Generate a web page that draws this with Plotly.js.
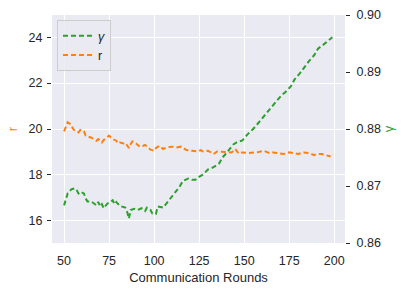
<!DOCTYPE html>
<html>
<head>
<meta charset="utf-8">
<script src="https://cdn.plot.ly/plotly-3.0.1.min.js"></script>
<style>html,body{margin:0;padding:0;background:#fff;}#chart{width:408px;height:292px;}</style>
</head>
<body>
<div id="chart"></div>
<script>
const roundsR = [50,52,54,55,56,58,59,61,62,63,65,67,68,69,71,72,75,76,77,79,80,81,83,84,86,87,88,90,92,94,95,97,98,99,100,101,103,105,107,110,113,115,118,121,124,126,127,130,133,135,138,140,143,145,147,149,152,154,157,161,164,166,169,172,175,178,180,183,186,189,190,193,196,198];
const rValues = [19.90,20.29,20.19,20.00,19.93,19.85,19.96,19.90,19.71,19.66,19.63,19.56,19.49,19.56,19.41,19.52,19.71,19.63,19.56,19.49,19.37,19.41,19.37,19.40,19.17,19.35,19.46,19.37,19.23,19.27,19.31,19.17,19.10,19.08,19.05,19.17,19.27,19.13,19.20,19.23,19.20,19.23,19.08,19.05,19.02,19.08,19.02,19.05,18.91,19.02,19.02,19.00,18.98,19.13,18.93,18.98,18.95,18.95,18.98,19.05,18.95,18.98,18.95,18.91,18.98,18.95,18.91,18.98,18.95,18.86,18.91,18.91,18.83,18.80];

const roundsG = [50,52,54,56,57,58,59,61,62,63,65,67,68,69,70,71,72,74,76,77,78,79,81,82,84,85,86,87,89,91,93,95,96,98,99,101,102,105,108,111,114,116,119,121,123,125,127,130,133,136,138,141,144,146,149,152,155,158,161,164,166,168,171,173,176,178,181,183,186,189,191,194,197,199];
const gammaValues = [0.8666,0.8687,0.8694,0.8696,0.8693,0.8687,0.8690,0.8687,0.8678,0.8673,0.8673,0.8668,0.8666,0.8672,0.8664,0.8668,0.8661,0.8669,0.8673,0.8675,0.8668,0.8672,0.8665,0.8664,0.8662,0.8655,0.8643,0.8658,0.8660,0.8658,0.8661,0.8656,0.8662,0.8658,0.8652,0.8651,0.8664,0.8662,0.8674,0.8687,0.8698,0.8709,0.8713,0.8711,0.8711,0.8716,0.8720,0.8729,0.8733,0.8739,0.8750,0.8761,0.8773,0.8777,0.8780,0.8791,0.8800,0.8811,0.8823,0.8835,0.8843,0.8849,0.8860,0.8865,0.8875,0.8887,0.8898,0.8907,0.8919,0.8930,0.8941,0.8948,0.8956,0.8961];

const xTicks = [50,75,100,125,150,175,200];
const leftTicks = [16,18,20,22,24];
const rightTicks = [0.86,0.87,0.88,0.89,0.90];
const rightTickText = ['0.86','0.87','0.88','0.89','0.90'];

const GREEN = '#2ca02c', ORANGE = '#ff7f0e', TXT = '#262626';
const FONT = 'Liberation Sans, Arial, sans-serif';
const TICKSIZE = 12.5, TITLESIZE = 13;

const traces = [
  {x: roundsG, y: gammaValues, name: '<i>γ</i>', yaxis: 'y2', type: 'scatter', mode: 'lines',
   line: {color: GREEN, width: 2, dash: '5px,3px'}},
  {x: roundsR, y: rValues, name: 'r', yaxis: 'y', type: 'scatter', mode: 'lines',
   line: {color: ORANGE, width: 2, dash: '5px,3px'}}
];

const layout = {
  width: 408, height: 292,
  margin: {l: 52, r: 63, t: 15, b: 49, pad: 0},
  paper_bgcolor: '#ffffff', plot_bgcolor: '#EAEAF2',
  font: {family: FONT, size: TICKSIZE, color: TXT},
  showlegend: true,
  legend: {x: 0.017, y: 0.978, xanchor: 'left', yanchor: 'top',
    bgcolor: 'rgba(234,234,242,0.85)', bordercolor: '#cccccc', borderwidth: 1,
    font: {family: FONT, size: TICKSIZE, color: TXT}, tracegroupgap: 0},
  xaxis: {range: [43.3, 206], tickvals: xTicks, ticktext: xTicks.map(String),
    showgrid: true, gridcolor: '#ffffff', gridwidth: 1, zeroline: false,
    ticks: '', showline: false, ticklabelstandoff: 8,
    tickfont: {family: FONT, size: TICKSIZE, color: TXT},
    title: {text: 'Communication Rounds', font: {family: FONT, size: TITLESIZE, color: TXT}, standoff: 6}},
  yaxis: {range: [15.03, 24.97], tickvals: leftTicks, ticktext: leftTicks.map(String),
    showgrid: true, gridcolor: '#ffffff', gridwidth: 1, zeroline: false,
    ticks: 'outside', ticklen: 4, tickcolor: TXT, tickwidth: 1, showline: false,
    ticklabelstandoff: 2,
    tickfont: {family: FONT, size: TICKSIZE, color: TXT},
    title: {text: 'r', font: {family: FONT, size: TITLESIZE, color: ORANGE}, standoff: 8}},
  yaxis2: {range: [0.86, 0.90], overlaying: 'y', side: 'right',
    tickvals: rightTicks, ticktext: rightTickText,
    showgrid: false, zeroline: false, showline: false,
    ticks: 'outside', ticklen: 4, tickcolor: TXT, tickwidth: 1,
    ticklabelstandoff: 4,
    tickfont: {family: FONT, size: TICKSIZE, color: TXT},
    title: {text: 'γ', font: {family: FONT, size: TITLESIZE, color: GREEN}, standoff: 4}}
};

Plotly.newPlot('chart', traces, layout, {displayModeBar: false, staticPlot: true});
</script>
</body>
</html>
